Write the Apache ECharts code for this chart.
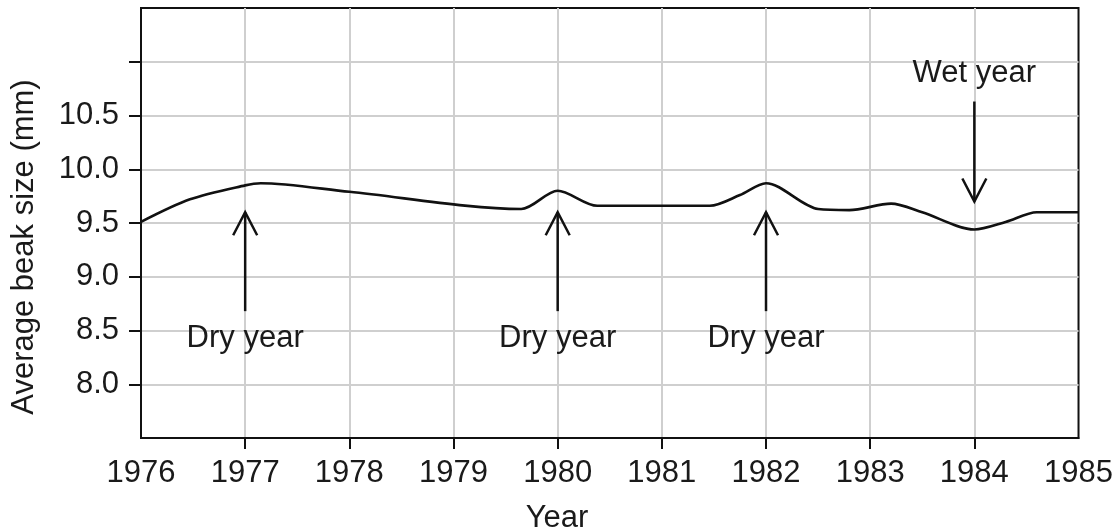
<!DOCTYPE html>
<html>
<head>
<meta charset="utf-8">
<script src="https://cdn.jsdelivr.net/npm/echarts@6/dist/echarts.min.js"></script>
<style>html,body{margin:0;padding:0;background:#fff;}#c{width:1116px;height:531px;}</style>
</head>
<body>
<div id="c"></div>
<script>
// ---- data ----
const lineYears  = [1976, 1976.47, 1977, 1977.15, 1978, 1979.65, 1980, 1980.38, 1981.46, 1981.75, 1982, 1982.5, 1982.8, 1983.2, 1983.5, 1984, 1984.3, 1984.6, 1985];
const beakSize   = [9.51, 9.72,    9.85, 9.87,    9.79, 9.63,    9.80, 9.66,    9.66,    9.76,    9.87, 9.63,   9.62,   9.68,   9.60,   9.44, 9.51,   9.60,   9.60];
const xTickLabels = [1976, 1977, 1978, 1979, 1980, 1981, 1982, 1983, 1984, 1985];
const yTickLabels = [8.0, 8.5, 9.0, 9.5, 10.0, 10.5];
const yTickMarks  = [8.0, 8.5, 9.0, 9.5, 10.0, 10.5, 11.0];
const arrowYears  = [1977, 1980, 1982, 1984];
const arrowFrom   = [8.68, 8.68, 8.68, 10.63];
const arrowTo     = [9.60, 9.60, 9.60, 9.70];
const noteTexts   = ['Dry year', 'Dry year', 'Dry year', 'Wet year'];
const noteValues  = [8.43, 8.43, 8.43, 10.89];

const FONT = 'Liberation Sans, Arial, Helvetica, sans-serif';
const INK = '#111';
const TXT = '#1a1a1a';
const FS = 31;

const chart = echarts.init(document.getElementById('c'), null, {renderer: 'canvas'});

const arrowData = arrowYears.map((y, i) => [y, arrowFrom[i], arrowTo[i], noteValues[i]]);

chart.setOption({
  animation: false,
  backgroundColor: '#fff',
  grid: {left: 141, right: 37, top: 8, bottom: 93, show: true, borderColor: INK, borderWidth: 2, containLabel: false},
  xAxis: {
    type: 'value', min: 1976, max: 1985, interval: 1,
    axisLine: {show: true, lineStyle: {color: INK, width: 2}},
    axisTick: {show: true, length: 11, lineStyle: {color: INK, width: 2}, customValues: [1977, 1978, 1979, 1980, 1981, 1982, 1983, 1984]},
    axisLabel: {color: TXT, fontSize: FS, fontFamily: FONT, margin: 20, customValues: xTickLabels, formatter: v => String(v)},
    splitLine: {show: true, lineStyle: {color: '#cfcfcf', width: 2}}
  },
  yAxis: {
    type: 'value', min: 7.5, max: 11.5, interval: 0.5,
    axisLine: {show: true, lineStyle: {color: INK, width: 2}},
    axisTick: {show: true, length: 12, lineStyle: {color: INK, width: 2}, customValues: yTickMarks},
    axisLabel: {color: TXT, fontSize: FS, fontFamily: FONT, margin: 22, customValues: yTickLabels, formatter: v => v.toFixed(1)},
    splitLine: {show: true, lineStyle: {color: '#cfcfcf', width: 2}}
  },
  graphic: [
    {type: 'text', x: 24, y: 247, rotation: Math.PI / 2,
     style: {text: 'Average beak size (mm)', fill: TXT, font: FS + 'px ' + FONT, textAlign: 'center', textVerticalAlign: 'middle'}},
    {type: 'text', x: 557, y: 518,
     style: {text: 'Year', fill: TXT, font: FS + 'px ' + FONT, textAlign: 'center', textVerticalAlign: 'middle'}}
  ],
  series: [
    {
      type: 'line',
      data: lineYears.map((x, i) => [x, beakSize[i]]),
      smooth: 0.3,
      showSymbol: false,
      lineStyle: {color: INK, width: 2.6},
      z: 3
    },
    {
      type: 'custom',
      data: arrowData,
      encode: {x: 0, y: [1, 2]},
      clip: false,
      z: 4,
      renderItem: function (params, api) {
        const x = api.value(0);
        const p0 = api.coord([x, api.value(1)]);
        const p1 = api.coord([x, api.value(2)]);
        const pt = api.coord([x, api.value(3)]);
        const dir = p1[1] > p0[1] ? 1 : -1;
        return {
          type: 'group',
          children: [
            {type: 'line', shape: {x1: p0[0], y1: p0[1], x2: p1[0], y2: p1[1]}, style: {stroke: INK, lineWidth: 2.5}},
            {type: 'polyline', shape: {points: [[p1[0] - 12, p1[1] - dir * 23], [p1[0], p1[1]], [p1[0] + 12, p1[1] - dir * 23]]},
             style: {stroke: INK, lineWidth: 2.5, fill: null}},
            {type: 'text', x: pt[0], y: pt[1],
             style: {text: noteTexts[params.dataIndex], fill: TXT, font: FS + 'px ' + FONT, textAlign: 'center', textVerticalAlign: 'middle'}}
          ]
        };
      }
    }
  ]
});
</script>
</body>
</html>
